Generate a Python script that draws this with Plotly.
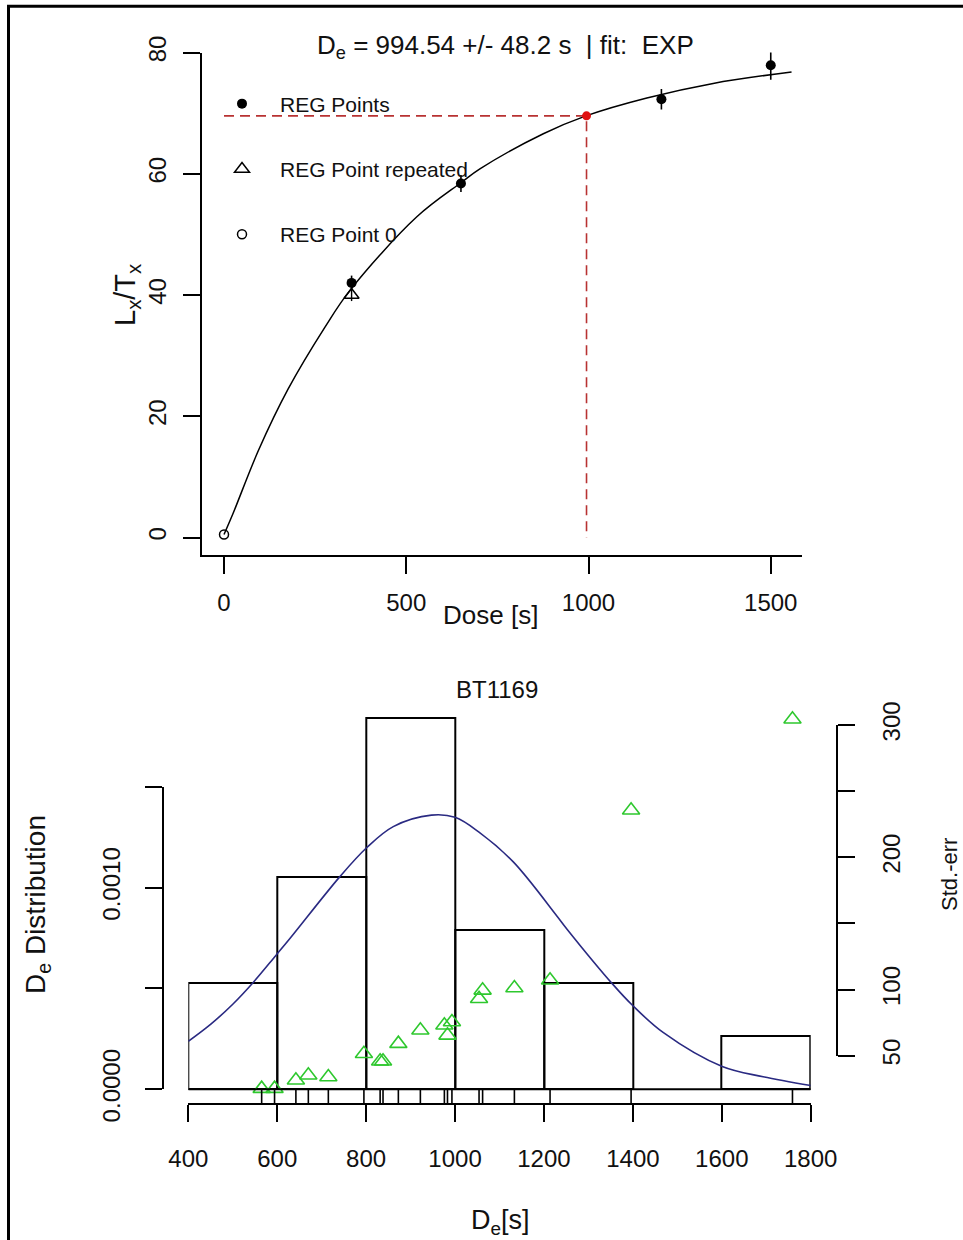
import plotly.graph_objects as go

W, H = 963, 1240
FONT = "Liberation Sans, Arial, sans-serif"

# ---------------- top panel data (dose response curve) ----------------
dose_reg = [350, 650, 1200, 1500]
lxtx_reg = [42.0, 58.4, 72.3, 77.9]
lxtx_reg_err = [1.2, 1.4, 1.7, 2.4]
dose_rep = [350]
lxtx_rep = [40.0]
lxtx_rep_err = [1.0]
dose_zero = [0]
lxtx_zero = [0.5]
de_value = 994.54
de_error = 48.2
lxtx_at_de = 69.55
fit_dose = [0, 25, 94, 176, 277, 346, 529, 652, 702, 876, 993, 1160, 1342, 1557]
fit_lxtx = [0.5, 4.0, 14.3, 24.5, 34.7, 40.8, 52.9, 58.6, 60.8, 66.6, 69.55, 72.5, 74.9, 76.8]
top_xticks = [0, 500, 1000, 1500]
top_yticks = [0, 20, 40, 60, 80]

# ---------------- bottom panel data (De distribution) ----------------
de_values = [565, 594, 642, 670, 715, 795, 831.5, 838, 872.5, 922, 976, 983, 993,
             1054, 1062, 1133.5, 1213.7, 1396, 1759]
se_values = [25.1, 25.1, 31.4, 35.2, 33.9, 51.5, 45.8, 45.8, 59.1, 69.2, 73.0, 65.4, 75.5,
             93.1, 99.4, 101.2, 107.0, 235.5, 304.3]
bin_start, bin_end, bin_size = 400, 1800, 200
norm_x = [400, 450, 500, 546, 597, 629, 741, 801, 861, 947, 1000, 1056, 1131, 1229, 1251,
          1356, 1399, 1468, 1601, 1693, 1800]
norm_y = [0.000238, 0.000322, 0.000422, 0.000530, 0.000664, 0.000749, 0.001055, 0.001198, 0.001303,
          0.001360, 0.001349, 0.001272, 0.001128, 0.000860, 0.000797, 0.000518, 0.000417,
          0.000282, 0.000113, 0.0000625, 0.0000190]
bot_xticks = [400, 600, 800, 1000, 1200, 1400, 1600, 1800]
dens_ticks = [0, 0.0005, 0.0010, 0.0015]
dens_ticktext = ["0.0000", "", "0.0010", ""]
se_ticks = [50, 100, 150, 200, 250, 300]
se_ticktext = ["50", "100", "", "200", "", "300"]
sample_name = "BT1169"


def px_x(p):
    return p / W


def px_y(p):
    return 1 - p / H


fig = go.Figure()

# ---- top panel
fig.add_trace(go.Scatter(x=fit_dose, y=fit_lxtx, mode="lines", line=dict(color="black", width=1.5, shape="spline"),
                         showlegend=False, hoverinfo="skip", xaxis="x", yaxis="y"))
fig.add_trace(go.Scatter(x=[0, de_value, de_value], y=[lxtx_at_de, lxtx_at_de, 0], mode="lines",
                         line=dict(color="#b83232", width=1.6, dash="10px,6px"),
                         showlegend=False, hoverinfo="skip", xaxis="x", yaxis="y"))
fig.add_trace(go.Scatter(x=dose_reg, y=lxtx_reg, mode="markers", name="REG Points",
                         marker=dict(symbol="circle", size=10, color="black"),
                         error_y=dict(type="data", array=lxtx_reg_err, width=0, thickness=1.6, color="black"),
                         legendgroup="a", cliponaxis=False, xaxis="x", yaxis="y"))
fig.add_trace(go.Scatter(x=dose_rep, y=lxtx_rep, mode="markers", name="REG Point repeated",
                         marker=dict(symbol="triangle-up-open", size=13, color="black", line=dict(width=1.5)),
                         error_y=dict(type="data", array=lxtx_rep_err, width=0, thickness=1.4, color="black"),
                         legendgroup="b", cliponaxis=False, xaxis="x", yaxis="y"))
fig.add_trace(go.Scatter(x=dose_zero, y=lxtx_zero, mode="markers", name="REG Point 0",
                         marker=dict(symbol="circle-open", size=9, color="black", line=dict(width=1.5)),
                         legendgroup="c", cliponaxis=False, xaxis="x", yaxis="y"))
fig.add_trace(go.Scatter(x=[de_value], y=[lxtx_at_de], mode="markers",
                         marker=dict(symbol="circle", size=9, color="#e01010"),
                         showlegend=False, hoverinfo="skip", cliponaxis=False, xaxis="x", yaxis="y"))

# ---- bottom panel
fig.add_trace(go.Histogram(x=de_values, xbins=dict(start=bin_start, end=bin_end, size=bin_size),
                           histnorm="probability density",
                           marker=dict(color="rgba(0,0,0,0)", line=dict(color="black", width=2)),
                           showlegend=False, hoverinfo="skip", xaxis="x2", yaxis="y2"))
fig.add_trace(go.Scatter(x=norm_x, y=norm_y, mode="lines", line=dict(color="#2a2a82", width=1.6, shape="spline"),
                         showlegend=False, hoverinfo="skip", xaxis="x2", yaxis="y2"))
fig.add_trace(go.Scatter(x=[None], y=[None], mode="markers", showlegend=False, hoverinfo="skip",
                         xaxis="x2", yaxis="y3"))
fig.add_trace(go.Scatter(x=[None], y=[None], mode="markers", showlegend=False, hoverinfo="skip",
                         xaxis="x2", yaxis="y4"))
fig.add_trace(go.Scatter(x=de_values, y=se_values, mode="markers",
                         marker=dict(symbol="triangle-up-open", size=15, color="#2ec82e", line=dict(width=1.6)),
                         showlegend=False, hoverinfo="skip", cliponaxis=False, xaxis="x2", yaxis="y5"))

# density axis (hidden, full plot height) and matching std.-err scale on the same plot height
y2_range = [-0.0000694, 0.001931]
y5_range = [14.02, 318.9]

shapes = []
# rug
for v in de_values:
    shapes.append(dict(type="line", xref="x2", yref="y2", x0=v, x1=v, y0=y2_range[0], y1=0,
                       line=dict(color="black", width=1.6)))
# histogram baseline
shapes.append(dict(type="line", xref="x2", yref="y2", x0=bin_start, x1=bin_end, y0=0, y1=0,
                   line=dict(color="black", width=2)))
# outer frame
shapes.append(dict(type="rect", xref="paper", yref="paper", x0=px_x(8.5), x1=1.05, y0=-0.05, y1=px_y(6.3),
                   line=dict(color="black", width=3)))

tickfont = dict(family=FONT, size=24, color="#111")
common = dict(showgrid=False, zeroline=False, showline=True, linecolor="black", linewidth=2,
              ticks="outside", ticklen=17, tickwidth=2, tickcolor="black", tickfont=tickfont)

annotations = [
    dict(text="D<sub>e</sub> = 994.54 +/- 48.2 s \u00a0| fit: \u00a0EXP", x=px_x(505), y=px_y(46),
         font=dict(family=FONT, size=26, color="#111")),
    dict(text="Dose [s]", x=px_x(490.5), y=px_y(615), font=dict(family=FONT, size=26, color="#111")),
    dict(text="L<sub>x</sub>/T<sub>x</sub>", x=px_x(127), y=px_y(295), textangle=-90,
         font=dict(family=FONT, size=29, color="#111")),
    dict(text=sample_name, x=px_x(496.5), y=px_y(690), font=dict(family=FONT, size=24, color="#111")),
    dict(text="D<sub>e</sub> Distribution", x=px_x(37), y=px_y(905), textangle=-90,
         font=dict(family=FONT, size=28, color="#111")),
    dict(text="Std.-err", x=px_x(949), y=px_y(875), textangle=-90,
         font=dict(family=FONT, size=22, color="#111")),
    dict(text="D<sub>e</sub>[s]", x=px_x(500), y=px_y(1222), font=dict(family=FONT, size=27, color="#111")),
]
for a in annotations:
    a.update(xref="paper", yref="paper", showarrow=False, xanchor="center", yanchor="middle")

fig.update_layout(
    width=W, height=H, margin=dict(l=0, r=0, t=0, b=0, autoexpand=False),
    paper_bgcolor="white", plot_bgcolor="rgba(0,0,0,0)",
    bargap=0,
    font=dict(family=FONT, color="#111"),
    xaxis=dict(domain=[px_x(202), px_x(802)], range=[-60.4, 1585.7], anchor="y",
               tickvals=top_xticks, ticklabelstandoff=8, **common),
    yaxis=dict(domain=[px_y(555), px_y(52.5)], range=[-2.887, 80.001], anchor="x",
               tickvals=top_yticks, tickangle=-90, ticklabelstandoff=7, **common),
    xaxis2=dict(domain=[px_x(188.3), px_x(810.7)], range=[399.99, 1800.01], anchor="y2",
                tickvals=bot_xticks, ticklabelstandoff=16, **common),
    yaxis2=dict(domain=[px_y(1103.3), px_y(700)], range=y2_range, anchor="x2", visible=False),
    yaxis5=dict(overlaying="y2", range=y5_range, anchor="x2", visible=False),
    yaxis3=dict(domain=[px_y(1089.3), px_y(786.7)], range=[-0.0000001, 0.0015001], anchor="free",
                position=px_x(162.7), side="left", tickvals=dens_ticks, ticktext=dens_ticktext,
                tickangle=-90, ticklabelstandoff=15, **common),
    yaxis4=dict(domain=[px_y(1055.7), px_y(725)], range=[49.99, 300.01], anchor="free",
                position=px_x(837.3), side="right", tickvals=se_ticks, ticktext=se_ticktext,
                tickangle=-90, ticklabelstandoff=16, **common),
    legend=dict(x=px_x(204), y=px_y(83.5), xanchor="left", yanchor="top", bgcolor="rgba(0,0,0,0)",
                font=dict(family=FONT, size=21, color="#111"), tracegroupgap=35, itemwidth=66),
    shapes=shapes,
    annotations=annotations,
)

fig.write_html("out.html")
